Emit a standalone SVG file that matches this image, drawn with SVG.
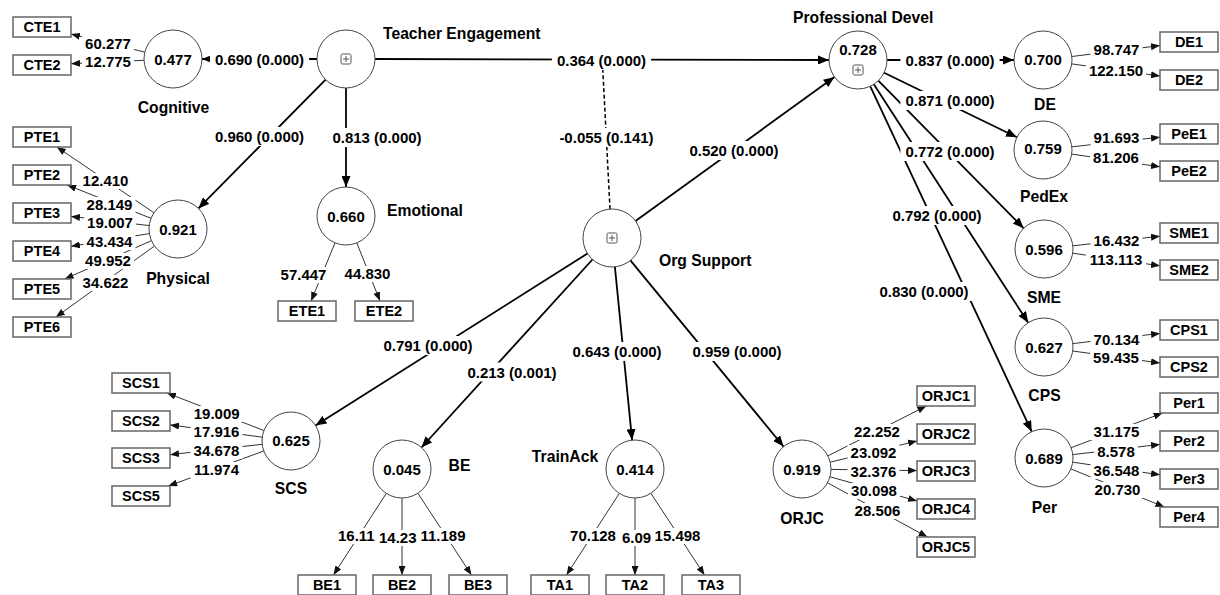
<svg xmlns="http://www.w3.org/2000/svg" width="1220" height="595" viewBox="0 0 1220 595">
<style>
.p{stroke:#000;stroke-width:1.8;fill:none}
.l{stroke:#333;stroke-width:1;fill:none}
.d{stroke:#000;stroke-width:1.5;stroke-dasharray:4 2.5;fill:none}
.bg{fill:#fff}
text{font-family:"Liberation Sans",Arial,sans-serif;font-weight:bold;fill:#000}
.v{font-size:15px;text-anchor:middle}
.vs{font-size:15px}
.n{font-size:15.7px}
.c{text-anchor:middle}
.b{font-size:14.5px;text-anchor:middle}
.lv circle{fill:#fff;stroke:#444;stroke-width:1}
.mv rect{fill:#fff;stroke:#666;stroke-width:1.5}
.ic rect{fill:#fff;stroke:#555;stroke-width:1}
.ic path{stroke:#555;stroke-width:1;fill:none}
</style>
<defs>
<marker id="ah" markerUnits="userSpaceOnUse" markerWidth="11" markerHeight="9" refX="11" refY="4.5" orient="auto"><path d="M0,0 L11,4.5 L0,9 z" fill="#000"/></marker>
<marker id="ahs" markerUnits="userSpaceOnUse" markerWidth="9" markerHeight="7" refX="9" refY="3.5" orient="auto"><path d="M0,0 L9,3.5 L0,7 z" fill="#111"/></marker>
<marker id="ahd" markerUnits="userSpaceOnUse" markerWidth="6" markerHeight="6" refX="6" refY="3" orient="auto"><path d="M0,0 L6,3 L0,6" fill="none" stroke="#000" stroke-width="1"/></marker>
</defs>

<g id="connectors">
<line class="p" x1="317" y1="59" x2="202" y2="59" marker-end="url(#ah)"/>
<line class="p" x1="325.6" y1="79.6" x2="198.4" y2="208.4" marker-end="url(#ah)"/>
<line class="p" x1="346" y1="88" x2="346" y2="187" marker-end="url(#ah)"/>
<line class="p" x1="375" y1="59" x2="829" y2="60" marker-end="url(#ah)"/>
<line class="p" x1="635.5" y1="221" x2="834.5" y2="77" marker-end="url(#ah)"/>
<line class="p" x1="587.5" y1="253.5" x2="315.5" y2="425.5" marker-end="url(#ah)"/>
<line class="p" x1="592.5" y1="259.5" x2="421.5" y2="447.5" marker-end="url(#ah)"/>
<line class="p" x1="614.9" y1="266.9" x2="632.1" y2="440.1" marker-end="url(#ah)"/>
<line class="p" x1="630.4" y1="260.4" x2="783.6" y2="446.6" marker-end="url(#ah)"/>
<line class="p" x1="887" y1="60" x2="1014" y2="60" marker-end="url(#ah)"/>
<line class="p" x1="884.1" y1="72.7" x2="1016.9" y2="137.3" marker-end="url(#ah)"/>
<line class="p" x1="878.3" y1="80.7" x2="1023.7" y2="228.3" marker-end="url(#ah)"/>
<line class="p" x1="873.8" y1="84.3" x2="1028.2" y2="322.7" marker-end="url(#ah)"/>
<line class="p" x1="870.3" y1="86.3" x2="1031.7" y2="431.7" marker-end="url(#ah)"/>
<line class="d" x1="610" y1="209" x2="602.5" y2="64" marker-end="url(#ahd)"/>

<line class="l" x1="144.8" y1="52.1" x2="71" y2="34.1" marker-end="url(#ahs)"/>
<line class="l" x1="144" y1="60.3" x2="71" y2="63.7" marker-end="url(#ahs)"/>
<line class="l" x1="154" y1="212.8" x2="56.8" y2="147" marker-end="url(#ahs)"/>
<line class="l" x1="151" y1="218.3" x2="67.2" y2="185" marker-end="url(#ahs)"/>
<line class="l" x1="149.2" y1="225.6" x2="71" y2="216.4" marker-end="url(#ahs)"/>
<line class="l" x1="149.4" y1="233.6" x2="71" y2="246.3" marker-end="url(#ahs)"/>
<line class="l" x1="151.5" y1="240.7" x2="64.7" y2="279" marker-end="url(#ahs)"/>
<line class="l" x1="154.5" y1="246" x2="55.9" y2="317" marker-end="url(#ahs)"/>
<line class="l" x1="335" y1="242.8" x2="311.1" y2="301" marker-end="url(#ahs)"/>
<line class="l" x1="356.8" y1="242.9" x2="380" y2="301" marker-end="url(#ahs)"/>
<line class="l" x1="1071.8" y1="56.5" x2="1160" y2="45.6" marker-end="url(#ahs)"/>
<line class="l" x1="1071.7" y1="63.9" x2="1160" y2="76" marker-end="url(#ahs)"/>
<line class="l" x1="1071.8" y1="146.8" x2="1160" y2="137.2" marker-end="url(#ahs)"/>
<line class="l" x1="1071.7" y1="154.1" x2="1160" y2="166.8" marker-end="url(#ahs)"/>
<line class="l" x1="1072.8" y1="245.8" x2="1160" y2="236.2" marker-end="url(#ahs)"/>
<line class="l" x1="1072.7" y1="253.2" x2="1160" y2="265.8" marker-end="url(#ahs)"/>
<line class="l" x1="1072.8" y1="343.6" x2="1160" y2="333.4" marker-end="url(#ahs)"/>
<line class="l" x1="1072.7" y1="351" x2="1160" y2="363" marker-end="url(#ahs)"/>
<line class="l" x1="1071.1" y1="447.7" x2="1162.6" y2="413" marker-end="url(#ahs)"/>
<line class="l" x1="1072.8" y1="454.6" x2="1160" y2="444.4" marker-end="url(#ahs)"/>
<line class="l" x1="1072.7" y1="462.2" x2="1160" y2="474.8" marker-end="url(#ahs)"/>
<line class="l" x1="1070.9" y1="468.9" x2="1164.4" y2="507" marker-end="url(#ahs)"/>
<line class="l" x1="827.9" y1="455.9" x2="926.3" y2="406" marker-end="url(#ahs)"/>
<line class="l" x1="830.2" y1="462.2" x2="917" y2="441" marker-end="url(#ahs)"/>
<line class="l" x1="831" y1="469.4" x2="917" y2="470.6" marker-end="url(#ahs)"/>
<line class="l" x1="829.9" y1="476.8" x2="917" y2="500.9" marker-end="url(#ahs)"/>
<line class="l" x1="827.5" y1="482.8" x2="927.5" y2="537" marker-end="url(#ahs)"/>
<line class="l" x1="263.9" y1="430.5" x2="166.9" y2="393" marker-end="url(#ahs)"/>
<line class="l" x1="262.3" y1="437.2" x2="170" y2="424.9" marker-end="url(#ahs)"/>
<line class="l" x1="262.2" y1="444.3" x2="170" y2="454.7" marker-end="url(#ahs)"/>
<line class="l" x1="263.8" y1="451" x2="168.3" y2="486" marker-end="url(#ahs)"/>
<line class="l" x1="386.3" y1="493.4" x2="333.5" y2="575" marker-end="url(#ahs)"/>
<line class="l" x1="402" y1="498" x2="402" y2="575" marker-end="url(#ahs)"/>
<line class="l" x1="417.9" y1="493.3" x2="471.5" y2="575" marker-end="url(#ahs)"/>
<line class="l" x1="619.3" y1="493.4" x2="566.5" y2="575" marker-end="url(#ahs)"/>
<line class="l" x1="635" y1="498" x2="635" y2="575" marker-end="url(#ahs)"/>
<line class="l" x1="650.9" y1="493.3" x2="704.5" y2="575" marker-end="url(#ahs)"/>
</g>

<g id="connector-labels">
<g class="bg">
<rect x="209.9" y="50" width="99.2" height="19"/>
<rect x="209.9" y="127" width="99.2" height="19"/>
<rect x="327.4" y="128" width="99.2" height="19"/>
<rect x="551.9" y="51" width="99.2" height="19"/>
<rect x="554.4" y="128" width="104.2" height="19"/>
<rect x="684.4" y="141" width="99.2" height="19"/>
<rect x="378.4" y="336" width="99.2" height="19"/>
<rect x="462.4" y="362.5" width="99.2" height="19"/>
<rect x="567.4" y="342" width="99.2" height="19"/>
<rect x="687.4" y="342" width="99.2" height="19"/>
<rect x="900.4" y="51" width="99.2" height="19"/>
<rect x="900.4" y="91" width="99.2" height="19"/>
<rect x="900.4" y="142" width="99.2" height="19"/>
<rect x="887.4" y="206" width="99.2" height="19"/>
<rect x="874.4" y="282" width="99.2" height="19"/>
<rect x="82.05" y="36" width="51.9" height="16"/>
<rect x="82.05" y="54" width="51.9" height="16"/>
<rect x="79.55" y="173" width="51.9" height="16"/>
<rect x="83.55" y="197" width="51.9" height="16"/>
<rect x="84.05" y="215" width="51.9" height="16"/>
<rect x="83.55" y="234" width="51.9" height="16"/>
<rect x="82.05" y="253" width="51.9" height="16"/>
<rect x="79.55" y="275" width="51.9" height="16"/>
<rect x="277.55" y="267" width="51.9" height="16"/>
<rect x="341.55" y="266" width="51.9" height="16"/>
<rect x="1090.55" y="42" width="51.9" height="16"/>
<rect x="1085.9" y="62.5" width="60.2" height="16"/>
<rect x="1090.55" y="130" width="51.9" height="16"/>
<rect x="1090.05" y="150" width="51.9" height="16"/>
<rect x="1090.55" y="233" width="51.9" height="16"/>
<rect x="1085.9" y="252" width="60.2" height="16"/>
<rect x="1090.55" y="331.5" width="51.9" height="16"/>
<rect x="1090.05" y="349.5" width="51.9" height="16"/>
<rect x="1090.55" y="424" width="51.9" height="16"/>
<rect x="1094.25" y="444" width="43.5" height="16"/>
<rect x="1090.55" y="463" width="51.9" height="16"/>
<rect x="1091.55" y="482" width="51.9" height="16"/>
<rect x="851.05" y="424" width="51.9" height="16"/>
<rect x="847.55" y="445" width="51.9" height="16"/>
<rect x="847.55" y="464" width="51.9" height="16"/>
<rect x="848.05" y="483" width="51.9" height="16"/>
<rect x="851.55" y="503" width="51.9" height="16"/>
<rect x="190.75" y="406" width="51.9" height="16"/>
<rect x="190.55" y="424" width="51.9" height="16"/>
<rect x="190.55" y="443" width="51.9" height="16"/>
<rect x="190.55" y="462" width="51.9" height="16"/>
<rect x="335" y="528" width="46" height="16"/>
<rect x="377" y="530" width="46" height="16"/>
<rect x="416" y="528" width="54" height="16"/>
<rect x="568" y="528" width="50" height="16"/>
<rect x="614" y="530" width="44" height="16"/>
<rect x="652" y="528" width="52" height="16"/>
</g>
<text class="v" x="259.5" y="65">0.690 (0.000)</text>
<text class="v" x="259.5" y="142">0.960 (0.000)</text>
<text class="v" x="377" y="143">0.813 (0.000)</text>
<text class="v" x="601.5" y="66">0.364 (0.000)</text>
<text class="v" x="606.5" y="143">-0.055 (0.141)</text>
<text class="v" x="734" y="156">0.520 (0.000)</text>
<text class="v" x="428" y="351">0.791 (0.000)</text>
<text class="v" x="512" y="377.5">0.213 (0.001)</text>
<text class="v" x="617" y="357">0.643 (0.000)</text>
<text class="v" x="737" y="357">0.959 (0.000)</text>
<text class="v" x="950" y="66">0.837 (0.000)</text>
<text class="v" x="950" y="106">0.871 (0.000)</text>
<text class="v" x="950" y="157">0.772 (0.000)</text>
<text class="v" x="937" y="221">0.792 (0.000)</text>
<text class="v" x="924" y="297">0.830 (0.000)</text>
<text class="v" x="108" y="49">60.277</text>
<text class="v" x="108" y="67">12.775</text>
<text class="v" x="105.5" y="186">12.410</text>
<text class="v" x="109.5" y="210">28.149</text>
<text class="v" x="110" y="228">19.007</text>
<text class="v" x="109.5" y="247">43.434</text>
<text class="v" x="108" y="266">49.952</text>
<text class="v" x="105.5" y="288">34.622</text>
<text class="v" x="303.5" y="280">57.447</text>
<text class="v" x="367.5" y="279">44.830</text>
<text class="v" x="1116.5" y="55">98.747</text>
<text class="v" x="1116" y="75.5">122.150</text>
<text class="v" x="1116.5" y="143">91.693</text>
<text class="v" x="1116" y="163">81.206</text>
<text class="v" x="1116.5" y="246">16.432</text>
<text class="v" x="1116" y="265">113.113</text>
<text class="v" x="1116.5" y="344.5">70.134</text>
<text class="v" x="1116" y="362.5">59.435</text>
<text class="v" x="1116.5" y="437">31.175</text>
<text class="v" x="1116" y="457">8.578</text>
<text class="v" x="1116.5" y="476">36.548</text>
<text class="v" x="1117.5" y="495">20.730</text>
<text class="v" x="877" y="437">22.252</text>
<text class="v" x="873.5" y="458">23.092</text>
<text class="v" x="873.5" y="477">32.376</text>
<text class="v" x="874" y="496">30.098</text>
<text class="v" x="877.5" y="516">28.506</text>
<text class="v" x="216.7" y="419">19.009</text>
<text class="v" x="216.5" y="437">17.916</text>
<text class="v" x="216.5" y="456">34.678</text>
<text class="v" x="216.5" y="475">11.974</text>
<text class="vs" x="338" y="541">16.11</text>
<text class="vs" x="379" y="543">14.23</text>
<text class="v" x="443" y="541">11.189</text>
<text class="v" x="593" y="541">70.128</text>
<text class="vs" x="622" y="543">6.09</text>
<text class="v" x="677.5" y="541">15.498</text>
</g>

<g id="latent-nodes" class="lv">
<g id="cognitive"><circle cx="173" cy="59" r="29"/><text class="v" x="173" y="65">0.477</text><text class="n c" x="173.5" y="112.5">Cognitive</text></g>
<g id="teacher-engagement"><circle cx="346" cy="59" r="29"/><g class="ic"><rect x="341" y="54" width="10" height="10" rx="1.5"/><path d="M343 59h6M346 56v6"/></g><text class="n" x="383" y="39">Teacher Engagement</text></g>
<g id="physical"><circle cx="178" cy="229" r="29"/><text class="v" x="178" y="235">0.921</text><text class="n c" x="178" y="283.5">Physical</text></g>
<g id="emotional"><circle cx="346" cy="216" r="29"/><text class="v" x="346" y="222">0.660</text><text class="n" x="387" y="215.5">Emotional</text></g>
<g id="org-support"><circle cx="612" cy="238" r="29"/><g class="ic"><rect x="607" y="233" width="10" height="10" rx="1.5"/><path d="M609 238h6M612 235v6"/></g><text class="n" x="659" y="265.5">Org Support</text></g>
<g id="professional-devel"><circle cx="858" cy="60" r="29"/><text class="v" x="858" y="55">0.728</text><g class="ic"><rect x="853" y="65" width="10" height="10" rx="1.5"/><path d="M855 70h6M858 67v6"/></g><text class="n" x="793" y="23">Professional Devel</text></g>
<g id="de"><circle cx="1043" cy="60" r="29"/><text class="v" x="1043" y="65">0.700</text><text class="n c" x="1045" y="110">DE</text></g>
<g id="pedex"><circle cx="1043" cy="150" r="29"/><text class="v" x="1043" y="154">0.759</text><text class="n c" x="1044" y="201.5">PedEx</text></g>
<g id="sme"><circle cx="1044" cy="249" r="29"/><text class="v" x="1044" y="255">0.596</text><text class="n c" x="1044" y="303">SME</text></g>
<g id="cps"><circle cx="1044" cy="347" r="29"/><text class="v" x="1044" y="353">0.627</text><text class="n c" x="1044.5" y="400.5">CPS</text></g>
<g id="per"><circle cx="1044" cy="458" r="29"/><text class="v" x="1044" y="464">0.689</text><text class="n c" x="1044.5" y="512.5">Per</text></g>
<g id="orjc"><circle cx="802" cy="469" r="29"/><text class="v" x="802" y="475">0.919</text><text class="n c" x="802" y="523.5">ORJC</text></g>
<g id="scs"><circle cx="291" cy="441" r="29"/><text class="v" x="291" y="446">0.625</text><text class="n c" x="291" y="493.5">SCS</text></g>
<g id="be"><circle cx="402" cy="469" r="29"/><text class="v" x="402" y="475">0.045</text><text class="n c" x="459.5" y="470.5">BE</text></g>
<g id="trainack"><circle cx="635" cy="469" r="29"/><text class="v" x="635" y="475">0.414</text><text class="n c" x="565" y="461.5">TrainAck</text></g>
</g>

<g id="indicator-nodes" class="mv">
<g id="CTE1"><rect x="13" y="17" width="58" height="20"/><text class="b" x="42" y="32">CTE1</text></g>
<g id="CTE2"><rect x="13" y="55" width="58" height="20"/><text class="b" x="42" y="70">CTE2</text></g>
<g id="PTE1"><rect x="13" y="127" width="58" height="20"/><text class="b" x="42" y="142">PTE1</text></g>
<g id="PTE2"><rect x="13" y="165" width="58" height="20"/><text class="b" x="42" y="180">PTE2</text></g>
<g id="PTE3"><rect x="13" y="203" width="58" height="20"/><text class="b" x="42" y="218">PTE3</text></g>
<g id="PTE4"><rect x="13" y="241" width="58" height="20"/><text class="b" x="42" y="256">PTE4</text></g>
<g id="PTE5"><rect x="13" y="279" width="58" height="20"/><text class="b" x="42" y="294">PTE5</text></g>
<g id="PTE6"><rect x="13" y="317" width="58" height="20"/><text class="b" x="42" y="332">PTE6</text></g>
<g id="ETE1"><rect x="278" y="301" width="58" height="20"/><text class="b" x="307" y="316">ETE1</text></g>
<g id="ETE2"><rect x="355" y="301" width="58" height="20"/><text class="b" x="384" y="316">ETE2</text></g>
<g id="DE1"><rect x="1160" y="32" width="58" height="20"/><text class="b" x="1189" y="47">DE1</text></g>
<g id="DE2"><rect x="1160" y="70" width="58" height="20"/><text class="b" x="1189" y="85">DE2</text></g>
<g id="PeE1"><rect x="1160" y="124" width="58" height="20"/><text class="b" x="1189" y="139">PeE1</text></g>
<g id="PeE2"><rect x="1160" y="161" width="58" height="20"/><text class="b" x="1189" y="176">PeE2</text></g>
<g id="SME1"><rect x="1160" y="223" width="58" height="20"/><text class="b" x="1189" y="238">SME1</text></g>
<g id="SME2"><rect x="1160" y="260" width="58" height="20"/><text class="b" x="1189" y="275">SME2</text></g>
<g id="CPS1"><rect x="1160" y="320" width="58" height="20"/><text class="b" x="1189" y="335">CPS1</text></g>
<g id="CPS2"><rect x="1160" y="357" width="58" height="20"/><text class="b" x="1189" y="372">CPS2</text></g>
<g id="Per1"><rect x="1160" y="393" width="58" height="20"/><text class="b" x="1189" y="408">Per1</text></g>
<g id="Per2"><rect x="1160" y="431" width="58" height="20"/><text class="b" x="1189" y="446">Per2</text></g>
<g id="Per3"><rect x="1160" y="469" width="58" height="20"/><text class="b" x="1189" y="484">Per3</text></g>
<g id="Per4"><rect x="1160" y="507" width="58" height="20"/><text class="b" x="1189" y="522">Per4</text></g>
<g id="ORJC1"><rect x="917" y="386" width="58" height="20"/><text class="b" x="946" y="401">ORJC1</text></g>
<g id="ORJC2"><rect x="917" y="424" width="58" height="20"/><text class="b" x="946" y="439">ORJC2</text></g>
<g id="ORJC3"><rect x="917" y="461" width="58" height="20"/><text class="b" x="946" y="476">ORJC3</text></g>
<g id="ORJC4"><rect x="917" y="499" width="58" height="20"/><text class="b" x="946" y="514">ORJC4</text></g>
<g id="ORJC5"><rect x="917" y="537" width="58" height="20"/><text class="b" x="946" y="552">ORJC5</text></g>
<g id="SCS1"><rect x="112" y="373" width="58" height="20"/><text class="b" x="141" y="388">SCS1</text></g>
<g id="SCS2"><rect x="112" y="411" width="58" height="20"/><text class="b" x="141" y="426">SCS2</text></g>
<g id="SCS3"><rect x="112" y="448" width="58" height="20"/><text class="b" x="141" y="463">SCS3</text></g>
<g id="SCS5"><rect x="112" y="486" width="58" height="20"/><text class="b" x="141" y="501">SCS5</text></g>
<g id="BE1"><rect x="298" y="575" width="58" height="20"/><text class="b" x="327" y="590">BE1</text></g>
<g id="BE2"><rect x="373" y="575" width="58" height="20"/><text class="b" x="402" y="590">BE2</text></g>
<g id="BE3"><rect x="449" y="575" width="58" height="20"/><text class="b" x="478" y="590">BE3</text></g>
<g id="TA1"><rect x="531" y="575" width="58" height="20"/><text class="b" x="560" y="590">TA1</text></g>
<g id="TA2"><rect x="606" y="575" width="58" height="20"/><text class="b" x="635" y="590">TA2</text></g>
<g id="TA3"><rect x="682" y="575" width="58" height="20"/><text class="b" x="711" y="590">TA3</text></g>
</g>
</svg>
